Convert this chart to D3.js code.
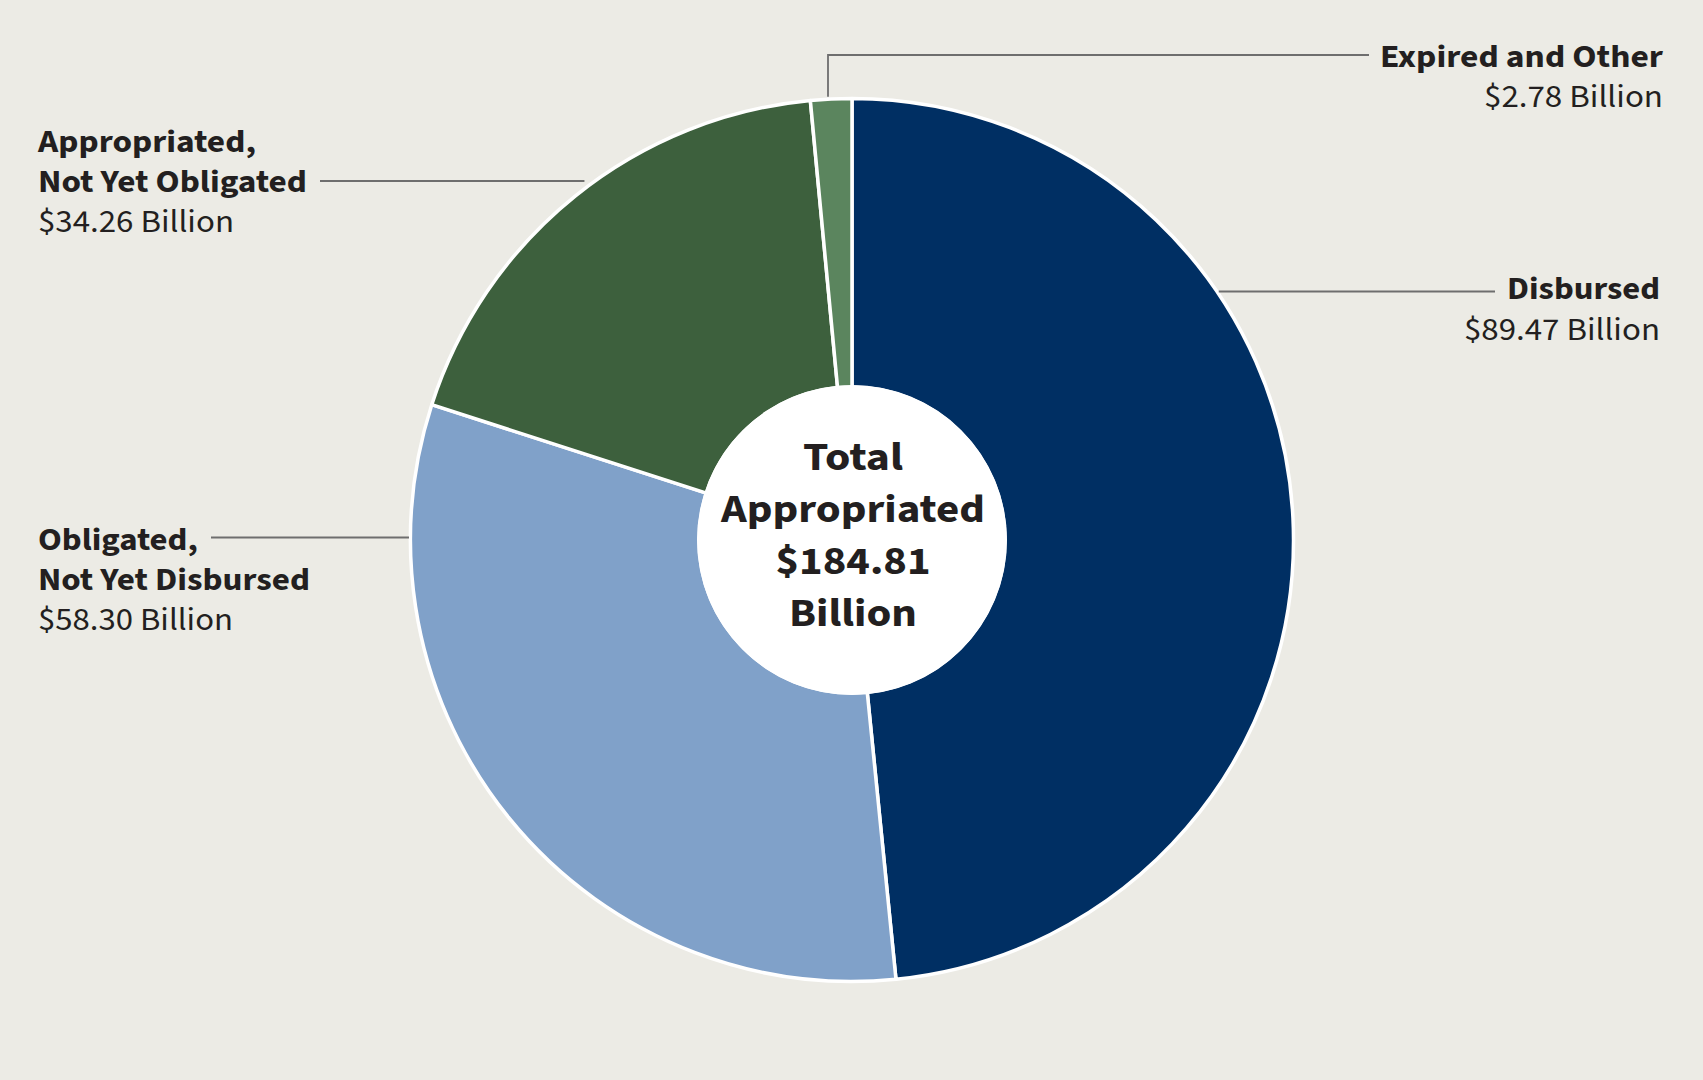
<!DOCTYPE html>
<html>
<head>
<meta charset="utf-8">
<script src="https://cdn.jsdelivr.net/npm/d3@7"></script>
<style>
  html, body { margin: 0; padding: 0; background: #ecebe5; }
  svg { display: block; }
  text { font-family: "Source Sans Pro", "Source Sans 3", "Lato", sans-serif; fill: #231f20; }
</style>
</head>
<body>
<svg id="chart" width="1703" height="1080"></svg>
<script>
// ---- Data ----
const categories = ["Disbursed", "Obligated, Not Yet Disbursed", "Appropriated, Not Yet Obligated", "Expired and Other"];
const titleLines = [["Disbursed"], ["Obligated,", "Not Yet Disbursed"], ["Appropriated,", "Not Yet Obligated"], ["Expired and Other"]];
const values = [89.47, 58.30, 34.26, 2.78];
const centerTitle = ["Total", "Appropriated"];
const unit = "Billion";

// ---- Styles / layout ----
const colors = ["#002f63", "#80a1c9", "#3d603d", "#5b855e"];
const W = 1703, H = 1080;
const cx = 852, cy = 540, R = 441.5, rInner = 155;

const svg = d3.select("#chart");
svg.append("rect").attr("width", W).attr("height", H).attr("fill", "#ecebe5");

const pie = d3.pie().sort(null).value(d => d);
const arcs = pie(values);
const arc = d3.arc().innerRadius(rInner - 2).outerRadius(R);

const g = svg.append("g").attr("transform", `translate(${cx},${cy})`);
g.selectAll("path.slice")
  .data(arcs)
  .join("path")
  .attr("class", "slice")
  .attr("d", arc)
  .attr("fill", (d, i) => colors[i])
  .attr("stroke", "#ffffff")
  .attr("stroke-width", 3.5)
  .attr("stroke-linejoin", "round");

g.append("circle").attr("r", rInner).attr("fill", "#ffffff");

// center text
const total = d3.sum(values);
const centerLines = [...centerTitle, "$" + total.toFixed(2), unit];
const centerWidths = [100, 264, 155, 128];
const centerBase = [470, 522, 574, 626];

function fitText(sel, target) {
  const node = sel.node();
  const w = node.getComputedTextLength();
  if (target && Math.abs(w - target) / target > 0.01) {
    sel.attr("textLength", target).attr("lengthAdjust", "spacingAndGlyphs");
  }
}

centerLines.forEach((t, i) => {
  const s = svg.append("text")
    .attr("x", cx + 1)
    .attr("y", centerBase[i])
    .attr("text-anchor", "middle")
    .attr("font-size", 40)
    .attr("font-weight", 700)
    .text(t);
  fitText(s, centerWidths[i]);
});

// ---- Labels ----
const edgeX = (y, side) => cx + side * Math.sqrt(Math.max(0, (R + 1.5) ** 2 - (y - cy) ** 2));
const edgeY = (x) => cy - Math.sqrt(Math.max(0, (R + 1.5) ** 2 - (x - cx) ** 2));

const labelLayout = [
  { anchor: "end", x: 1660, base: [299, 340], widths: [153, 196], leaderY: 291.5, lineEnd: 1495, side: 1 },
  { anchor: "start", x: 38, base: [550, 590, 630], widths: [160, 272, 195], leaderY: 537.5, lineEnd: 211, side: -1 },
  { anchor: "start", x: 38, base: [152, 192, 232], widths: [218, 269, 196], leaderY: 181, lineEnd: 320, side: -1, gap: 8 },
  { anchor: "end", x: 1663, base: [67, 107], widths: [283, 179], leaderY: 55, lineEnd: 1369, vertical: true, leaderX: 828 }
];

const leaderColor = "#6e6e6e";

categories.forEach((cat, i) => {
  const L = labelLayout[i];
  const lines = [...titleLines[i], "$" + values[i].toFixed(2) + " " + unit];
  lines.forEach((t, j) => {
    const bold = j < titleLines[i].length;
    const s = svg.append("text")
      .attr("x", L.x)
      .attr("y", L.base[j])
      .attr("text-anchor", L.anchor)
      .attr("font-size", 31)
      .attr("font-weight", bold ? 700 : 400)
      .text(t);
    fitText(s, L.widths[j]);
  });

  if (L.vertical) {
    const vy = edgeY(L.leaderX);
    svg.append("path")
      .attr("d", `M${L.leaderX},${vy - 1}V${L.leaderY}H${L.lineEnd}`)
      .attr("fill", "none")
      .attr("stroke", leaderColor)
      .attr("stroke-width", 1.8);
  } else {
    const ex = edgeX(L.leaderY, L.side) + L.side * (L.gap || 0);
    svg.append("line")
      .attr("x1", L.lineEnd).attr("y1", L.leaderY)
      .attr("x2", ex).attr("y2", L.leaderY)
      .attr("stroke", leaderColor)
      .attr("stroke-width", 1.8);
  }
});
</script>
</body>
</html>
